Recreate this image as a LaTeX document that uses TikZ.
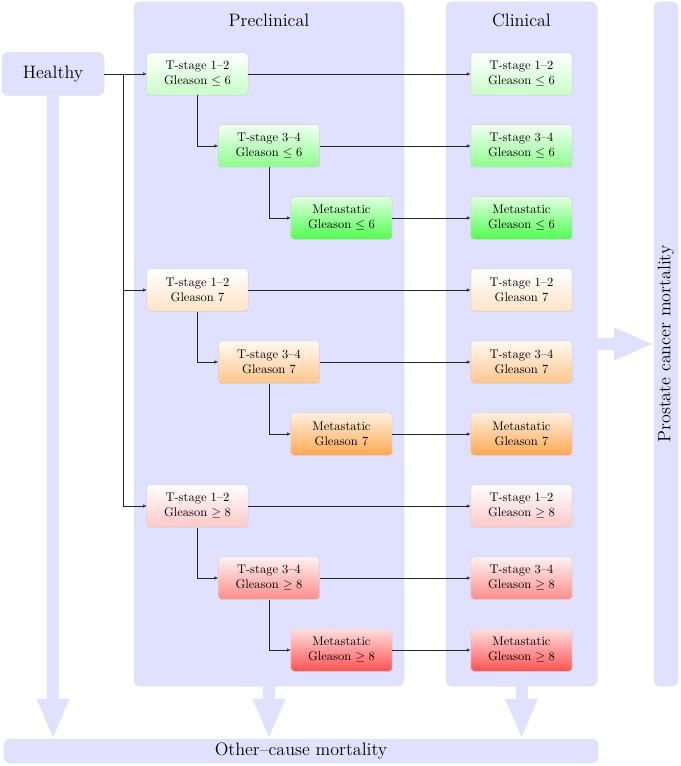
\documentclass[tikz,border=0pt]{standalone}
\usetikzlibrary{arrows.meta,positioning}

\begin{document}
\begin{tikzpicture}[x=0.8pt, y=-0.8pt,
  panel/.style={draw=black!12, fill=blue!12, rounded corners=5pt, inner sep=0pt, font=\Large},
  stagebox/.style={draw=black!18, rounded corners=2.5pt, align=center, inner sep=2pt,
                   minimum width=81pt, minimum height=34pt},
  shadeA/.style={top color=white, bottom color=#1!22},
  shadeB/.style={top color=#1!5, bottom color=#1!45},
  shadeC/.style={top color=#1!12, bottom color=#1!68},
  ar/.style={-{Latex[length=3pt,width=2.6pt]}, thin, black!85},
  flow/.style={line width=9.6pt, draw=blue!12, -{Triangle[length=32pt,width=24pt]}},
  lab/.style={font=\Large, inner sep=2pt},
]
\useasboundingbox (0,0) rectangle (680,766);

% panels and outcome bars
\node[panel, minimum width=216pt, minimum height=547.2pt] (pre) at (269,344) {};
\node[panel, minimum width=120.8pt, minimum height=547.2pt] (cli) at (521.5,344) {};
\node[panel, rotate=90, minimum width=547.2pt, minimum height=19.2pt] (pcm) at (666,344) {Prostate cancer mortality};
\node[panel, minimum width=475.2pt, minimum height=19.2pt] (oth) at (301,751) {Other--cause mortality};
\node[panel, minimum width=81.6pt, minimum height=34.4pt] (hea) at (53,74) {Healthy};
\node[lab] at (269,20) {Preclinical};
\node[lab] at (521.5,20) {Clinical};

\draw[flow] (hea.south) -- (hea.south |- oth.north);
\draw[flow] (pre.south) -- (pre.south |- oth.north);
\draw[flow] (cli.south) -- (cli.south |- oth.north);
\draw[flow] (cli.east) -- (pcm.north);

% preclinical states
\node[stagebox, shadeA=green]  (g6a) at (197.5,74)  {T-stage 1--2\\Gleason $\leq 6$};
\node[stagebox, shadeB=green]  (g6b) at (269,146)   {T-stage 3--4\\Gleason $\leq 6$};
\node[stagebox, shadeC=green]  (g6c) at (341.5,218) {Metastatic\\Gleason $\leq 6$};
\node[stagebox, shadeA=orange] (g7a) at (197.5,290) {T-stage 1--2\\Gleason 7};
\node[stagebox, shadeB=orange] (g7b) at (269,362)   {T-stage 3--4\\Gleason 7};
\node[stagebox, shadeC=orange] (g7c) at (341.5,434) {Metastatic\\Gleason 7};
\node[stagebox, shadeA=red]    (g8a) at (197.5,506) {T-stage 1--2\\Gleason $\geq 8$};
\node[stagebox, shadeB=red]    (g8b) at (269,578)   {T-stage 3--4\\Gleason $\geq 8$};
\node[stagebox, shadeC=red]    (g8c) at (341.5,650) {Metastatic\\Gleason $\geq 8$};

% clinical states
\node[stagebox, shadeA=green]  (k6a) at (521.5,74)  {T-stage 1--2\\Gleason $\leq 6$};
\node[stagebox, shadeB=green]  (k6b) at (521.5,146) {T-stage 3--4\\Gleason $\leq 6$};
\node[stagebox, shadeC=green]  (k6c) at (521.5,218) {Metastatic\\Gleason $\leq 6$};
\node[stagebox, shadeA=orange] (k7a) at (521.5,290) {T-stage 1--2\\Gleason 7};
\node[stagebox, shadeB=orange] (k7b) at (521.5,362) {T-stage 3--4\\Gleason 7};
\node[stagebox, shadeC=orange] (k7c) at (521.5,434) {Metastatic\\Gleason 7};
\node[stagebox, shadeA=red]    (k8a) at (521.5,506) {T-stage 1--2\\Gleason $\geq 8$};
\node[stagebox, shadeB=red]    (k8b) at (521.5,578) {T-stage 3--4\\Gleason $\geq 8$};
\node[stagebox, shadeC=red]    (k8c) at (521.5,650) {Metastatic\\Gleason $\geq 8$};

% onset
\coordinate (split) at (123,74);
\draw[ar] (hea.east) -- (g6a.west);
\draw[ar] (split) |- (g7a.west);
\draw[ar] (split) |- (g8a.west);

% progression
\draw[ar] (g6a.south) |- (g6b.west);
\draw[ar] (g6b.south) |- (g6c.west);
\draw[ar] (g7a.south) |- (g7b.west);
\draw[ar] (g7b.south) |- (g7c.west);
\draw[ar] (g8a.south) |- (g8b.west);
\draw[ar] (g8b.south) |- (g8c.west);

% diagnosis
\draw[ar] (g6a) -- (k6a);
\draw[ar] (g6b) -- (k6b);
\draw[ar] (g6c) -- (k6c);
\draw[ar] (g7a) -- (k7a);
\draw[ar] (g7b) -- (k7b);
\draw[ar] (g7c) -- (k7c);
\draw[ar] (g8a) -- (k8a);
\draw[ar] (g8b) -- (k8b);
\draw[ar] (g8c) -- (k8c);
\end{tikzpicture}
\end{document}
